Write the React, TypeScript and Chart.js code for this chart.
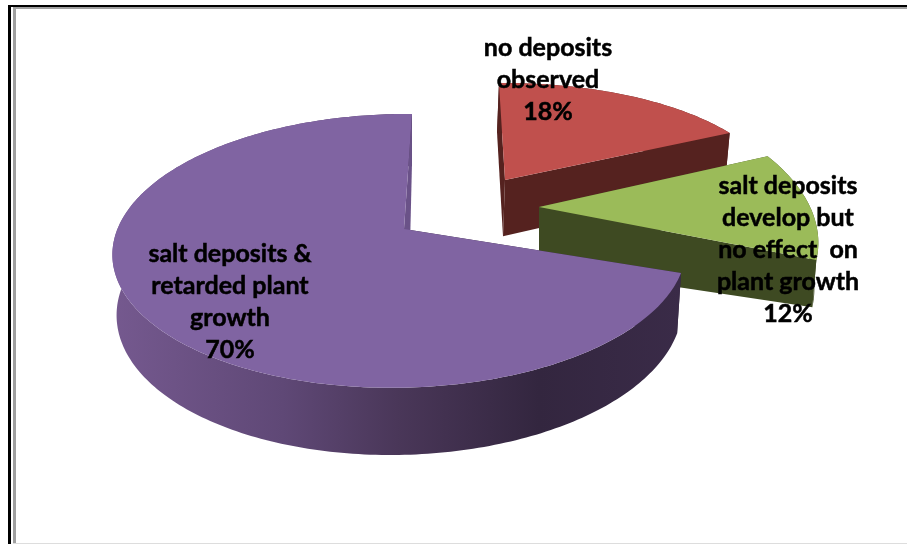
import React, { useEffect, useRef } from "react";
import { Chart, registerables } from "chart.js";

Chart.register(...registerables);

const WIDTH = 907;
const HEIGHT = 544;

const categories = [
  "no deposits observed",
  "salt deposits develop but no effect on plant growth",
  "salt deposits & retarded plant growth",
];
const shares = [18, 12, 70];
const topColors = ["#c0504d", "#9bbb59", "#8064a2"];
const labelLines = [
  ["no deposits", "observed"],
  ["salt deposits", "develop but", "no effect  on", "plant growth"],
  ["salt deposits &", "retarded plant", "growth"],
];

// Perspective terms of the tilted pie plane.
const TILT_P = 0.16;
const TILT_R = 0.011;
const DEPTH_T = 0.014;
const BASE_RADIUS = 272;

// Per-slice explosion offset and plane axes, in pixels at the base radius.
const sliceGeometry = [
  { dx: 51.5, dy: -92, a: 271, b: -7, c: 112.5, d: 3, depth: 57, fall: 0, apexDx: -2, rimDx: -2, wall: "#55221f", side: "#55221f" },
  { dx: 85.5, dy: -65, a: 277, b: -10, c: 143.5, d: -7, depth: 60, fall: 14, apexDx: 0, rimDx: 0, wall: "#3e4a22", side: "#3e4a22" },
  { dx: -49.5, dy: -43, a: 283, b: 9.3, c: 133.4, d: -1, depth: 59.6, fall: 0, apexDx: 5, rimDx: 0, wall: "#33263f", side: "#6a5288" },
];

// Rim shading of the large slice, running left to right.
const rimStops: [number, string][] = [
  [0, "#75598f"],
  [0.3, "#5f4876"],
  [0.5, "#4a3759"],
  [0.75, "#33263f"],
  [1, "#3a2b48"],
];

// Text block centres, as offsets from the slice apex.
const labelAnchors = [
  { dx: 43, y: 48 },
  { dx: 249, y: 186 },
  { dx: -174, y: 254 },
];
const LINE_HEIGHT = 32;
const LABEL_FONT = "bold 25px Lato";

type Geo = (typeof sliceGeometry)[number];

function project(el: any, g: Geo, rho: number, angle: number, bottom: boolean) {
  const k = el.outerRadius / BASE_RADIUS;
  const X = rho * Math.cos(angle);
  const Y = -rho * Math.sin(angle);
  const w = 1 + TILT_P * Y + TILT_R * X + (bottom ? DEPTH_T : 0);
  let x = el.x + g.dx * k + (k * (g.a * X + g.b * Y)) / w;
  let y = el.y + g.dy * k - (k * (g.c * Y + g.d * X)) / w;
  if (bottom) {
    x += k * (g.apexDx * (1 - rho) + g.rimDx * rho);
    y += (k * (g.depth - g.fall * X)) / w;
  }
  return { x, y };
}

function arcPoints(el: any, g: Geo, bottom: boolean) {
  const pts: { x: number; y: number }[] = [];
  const steps = Math.max(2, Math.ceil(((el.endAngle - el.startAngle) * 180) / Math.PI));
  for (let i = 0; i <= steps; i++) {
    const t = el.startAngle + ((el.endAngle - el.startAngle) * i) / steps;
    pts.push(project(el, g, 1, t, bottom));
  }
  return pts;
}

function fillPoly(ctx: CanvasRenderingContext2D, pts: { x: number; y: number }[], fill: string | CanvasGradient) {
  ctx.beginPath();
  pts.forEach((p, i) => (i ? ctx.lineTo(p.x, p.y) : ctx.moveTo(p.x, p.y)));
  ctx.closePath();
  ctx.fillStyle = fill;
  ctx.fill();
}

const framePlugin = {
  id: "frame",
  beforeDraw(chart: any) {
    const { ctx } = chart;
    ctx.save();
    ctx.fillStyle = "#ffffff";
    ctx.fillRect(0, 0, WIDTH, HEIGHT);
    ctx.fillStyle = "#000000";
    ctx.fillRect(8, 5, 3, HEIGHT - 5);
    ctx.fillRect(8, 5, WIDTH - 8, 2);
    ctx.fillStyle = "#a0a0a0";
    ctx.fillRect(13, 7, 3, HEIGHT - 7);
    ctx.fillRect(13, 7, WIDTH - 13, 2);
    ctx.fillStyle = "#dddddd";
    ctx.fillRect(13, HEIGHT - 1, WIDTH - 13, 1);
    ctx.restore();
  },
};

const pie3dPlugin = {
  id: "pie3d",
  beforeDatasetsDraw(chart: any) {
    const { ctx } = chart;
    const arcs = chart.getDatasetMeta(0).data;
    ctx.save();
    arcs.forEach((el: any, i: number) => {
      const g = sliceGeometry[i];
      const topArc = arcPoints(el, g, false);
      const lowArc = arcPoints(el, g, true);
      const apex = project(el, g, 0, el.startAngle, false);
      const lowApex = project(el, g, 0, el.startAngle, true);
      const last = topArc.length - 1;

      // Back cut face, then the rim, then the near cut face, then the top.
      fillPoly(ctx, [apex, topArc[0], lowArc[0], lowApex], g.wall);

      let rimFill: string | CanvasGradient = g.wall;
      if (i === 2) {
        const xs = topArc.map((p) => p.x);
        const grad = ctx.createLinearGradient(Math.min(...xs), 0, Math.max(...xs), 0);
        rimStops.forEach(([o, c]) => grad.addColorStop(o, c));
        rimFill = grad;
      }
      fillPoly(ctx, [...topArc, ...lowArc.slice().reverse()], rimFill);
      fillPoly(ctx, [apex, topArc[last], lowArc[last], lowApex], g.side);
      fillPoly(ctx, [apex, ...topArc], el.options.backgroundColor);
    });
    ctx.restore();
    return false;
  },
  afterDraw(chart: any) {
    const { ctx } = chart;
    const arcs = chart.getDatasetMeta(0).data;
    ctx.save();
    ctx.font = LABEL_FONT;
    ctx.fillStyle = "#000000";
    ctx.strokeStyle = "#000000";
    ctx.lineWidth = 0.5;
    ctx.textAlign = "center";
    ctx.textBaseline = "middle";
    arcs.forEach((el: any, i: number) => {
      const g = sliceGeometry[i];
      const apex = project(el, g, 0, el.startAngle, false);
      const lines = [...labelLines[i], `${shares[i]}%`];
      lines.forEach((line, n) => {
        const tx = apex.x + labelAnchors[i].dx;
        const ty = labelAnchors[i].y + n * LINE_HEIGHT;
        ctx.fillText(line, tx, ty);
        ctx.strokeText(line, tx, ty);
      });
    });
    ctx.restore();
  },
};

export default function App() {
  const ref = useRef<HTMLCanvasElement>(null);

  useEffect(() => {
    document.body.style.margin = "0";
    const chart = new Chart(ref.current!, {
      type: "pie",
      data: {
        labels: categories,
        datasets: [{ data: shares, backgroundColor: topColors, borderWidth: 0 }],
      },
      options: {
        animation: false,
        responsive: false,
        layout: { padding: 0 },
        plugins: { legend: { display: false }, tooltip: { enabled: false } },
      },
      plugins: [framePlugin, pie3dPlugin],
    });
    return () => chart.destroy();
  }, []);

  return <canvas ref={ref} width={WIDTH} height={HEIGHT} style={{ display: "block" }} />;
}
